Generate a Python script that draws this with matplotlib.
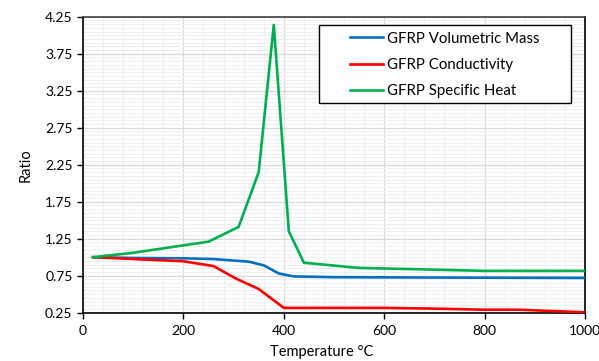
import matplotlib.pyplot as plt
from matplotlib.ticker import MultipleLocator
from matplotlib.patches import Rectangle

# datos
temp_masa = [20, 100, 200, 260, 330, 360, 390, 420, 500, 700, 1000]
masa = [1.0, 0.99, 0.985, 0.975, 0.94, 0.89, 0.78, 0.74, 0.73, 0.725, 0.72]

temp_cond = [20, 200, 260, 305, 350, 400, 500, 600, 700, 800, 870, 1000]
cond = [1.0, 0.945, 0.88, 0.71, 0.57, 0.315, 0.315, 0.315, 0.305, 0.29, 0.29, 0.255]

temp_cp = [20, 100, 250, 310, 350, 380, 410, 440, 550, 650, 800, 1000]
cp = [1.0, 1.06, 1.21, 1.41, 2.15, 4.14, 1.35, 0.925, 0.855, 0.84, 0.815, 0.815]

plt.rcParams['font.family'] = ['Lato', 'DejaVu Sans']

fig = plt.figure(figsize=(5.99, 3.61), dpi=100)
ax = fig.add_axes([0.1386, 0.1338, 0.838, 0.8199])

ax.plot(temp_masa, masa, color='#0070C0', lw=1.9, label='GFRP Volumetric Mass', zorder=3)
ax.plot(temp_cond, cond, color='#FF0000', lw=1.9, label='GFRP Conductivity', zorder=3)
ax.plot(temp_cp, cp, color='#00B050', lw=1.9, label='GFRP Specific Heat', zorder=3)

ax.set_xlim(0, 1000)
ax.set_ylim(0.25, 4.25)
ax.xaxis.set_major_locator(MultipleLocator(200))
ax.xaxis.set_minor_locator(MultipleLocator(40))
ax.set_yticks([0.25 + 0.5 * i for i in range(9)])
ax.yaxis.set_minor_locator(MultipleLocator(0.05))

ax.grid(True, which='major', color='#d9d9d9', lw=0.9, zorder=0)
ax.grid(True, which='minor', color='#efefef', lw=0.7, zorder=0)
ax.set_axisbelow(True)

ax.tick_params(which='major', direction='out', length=4, width=1, labelsize=10, colors='black')
ax.tick_params(axis='x', which='major', pad=5)
ax.tick_params(which='minor', length=0)

for lado in ['left', 'bottom', 'right']:
    ax.spines[lado].set_color('black')
    ax.spines[lado].set_linewidth(1.2)
ax.spines['top'].set_color('#404040')
ax.spines['top'].set_linewidth(1.2)

ax.set_xlabel('Temperature °C', fontsize=10.5, labelpad=2)
ax.xaxis.set_label_coords(0.475, -0.11)
ax.set_ylabel('Ratio', fontsize=10.5, labelpad=9)

# marco de la leyenda dibujado aparte
marco = Rectangle((0.470, 0.7074), 0.502, 0.2646, transform=ax.transAxes,
                  facecolor='white', edgecolor='black', lw=1.0, zorder=5)
ax.add_patch(marco)

leg = ax.legend(loc='upper left', bbox_to_anchor=(0.532, 0.95), fontsize=10.8,
                frameon=False, handlelength=2.2, borderpad=0,
                labelspacing=0.82, handletextpad=0.25, borderaxespad=0)
leg.set_zorder(6)

fig.savefig('out.png', dpi=100)
